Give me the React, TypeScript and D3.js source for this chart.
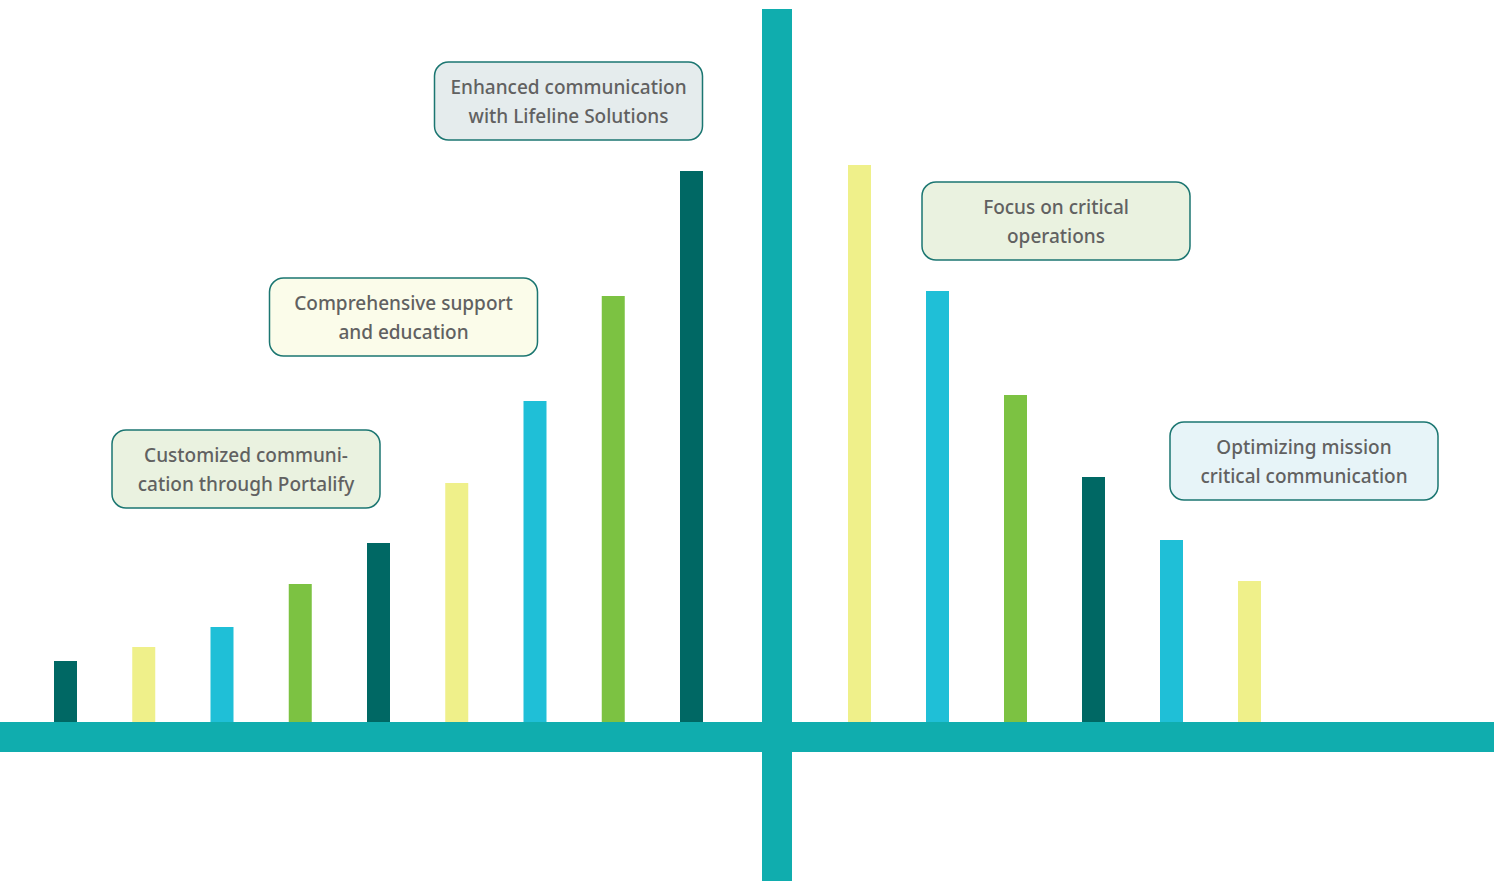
import * as d3 from "d3";
import { useEffect, useRef } from "react";

const leftSteps = [1, 2, 3, 4, 5, 6, 7, 8, 9];
const leftValues = [61, 75, 95, 138, 179, 239, 321, 426, 551];
const leftColors = ["dark", "yellow", "cyan", "green", "dark", "yellow", "cyan", "green", "dark"];

const rightSteps = [1, 2, 3, 4, 5, 6];
const rightValues = [557, 431, 327, 245, 182, 141];
const rightColors = ["yellow", "cyan", "green", "dark", "cyan", "yellow"];

const notes = [
  ["Customized communi-", "cation through Portalify"],
  ["Comprehensive support", "and education"],
  ["Enhanced communication", "with Lifeline Solutions"],
  ["Focus on critical", "operations"],
  ["Optimizing mission", "critical communication"],
];
const noteFills = ["#eaf2e0", "#fbfcea", "#e5eced", "#eaf2e0", "#e7f4f8"];

const palette: Record<string, string> = {
  dark: "#006864",
  yellow: "#eff08a",
  cyan: "#1fbfd7",
  green: "#7cc242",
};

const App = () => {
  const svgRef = useRef(null);

  const width = 1502;
  const height = 881;

  useEffect(() => {
    const svg = d3.select(svgRef.current);
    svg.selectAll("*").remove();

    const baseline = 722;
    const axisColor = "#10adae";

    const xLeft = d3.scaleLinear().domain([1, 9]).range([65.5, 691.5]);
    const xRight = d3.scaleLinear().domain([1, 6]).range([859.5, 1249.5]);
    const y = d3.scaleLinear().domain([0, 600]).range([baseline, baseline - 600]);
    const barW = 23;

    const drawBars = (steps: number[], values: number[], colors: string[], x: any) => {
      svg
        .append("g")
        .selectAll("rect")
        .data(steps)
        .join("rect")
        .attr("x", (d) => x(d) - barW / 2)
        .attr("y", (_, i) => y(values[i]))
        .attr("width", barW)
        .attr("height", (_, i) => y(0) - y(values[i]))
        .attr("fill", (_, i) => palette[colors[i]]);
    };

    drawBars(leftSteps, leftValues, leftColors, xLeft);
    drawBars(rightSteps, rightValues, rightColors, xRight);

    // axes as thick bands
    svg
      .append("rect")
      .attr("x", 0)
      .attr("y", baseline)
      .attr("width", 1494)
      .attr("height", 30)
      .attr("fill", axisColor);
    svg
      .append("rect")
      .attr("x", 762)
      .attr("y", 9)
      .attr("width", 30)
      .attr("height", height - 9)
      .attr("fill", axisColor);

    // annotation boxes (center x, top y)
    const noteSpots = [
      [246, 430],
      [403.5, 278],
      [568.5, 62],
      [1056, 182],
      [1304, 422],
    ];
    const boxW = 268;
    const boxH = 78;

    const g = svg
      .append("g")
      .selectAll("g")
      .data(notes)
      .join("g")
      .attr("transform", (_, i) => `translate(${noteSpots[i][0]},${noteSpots[i][1]})`);

    g.append("rect")
      .attr("x", -boxW / 2)
      .attr("y", 0)
      .attr("width", boxW)
      .attr("height", boxH)
      .attr("rx", 14)
      .attr("fill", (_, i) => noteFills[i])
      .attr("stroke", "#1b7671")
      .attr("stroke-width", 1.5);

    g.selectAll("text")
      .data((d) => d)
      .join("text")
      .attr("x", 0)
      .attr("y", (_, j) => 32 + j * 29)
      .attr("text-anchor", "middle")
      .attr("font-family", "'Noto Sans', sans-serif")
      .attr("font-size", 19)
      .attr("font-weight", 500)
      .attr("fill", "#616161")
      .text((d) => d);
  }, []);

  return (
    <svg
      width={width}
      height={height}
      ref={svgRef}
      style={{ position: "absolute", left: 0, top: 0 }}
    />
  );
};

export default App;
